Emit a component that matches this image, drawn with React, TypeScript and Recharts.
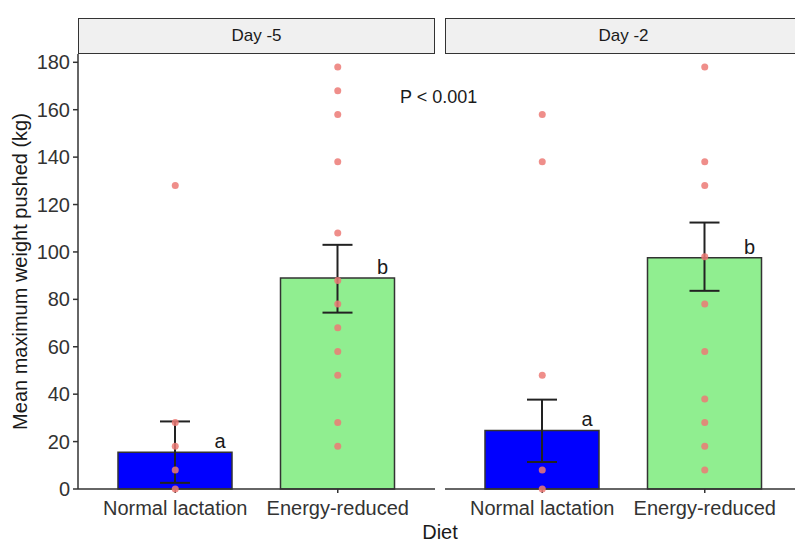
import React from "react";
import {
  ComposedChart,
  Bar,
  Cell,
  ErrorBar,
  Scatter,
  XAxis,
  YAxis,
  Label,
  LabelList,
} from "recharts";

const diets = ["Normal lactation", "Energy-reduced"];
const letters = ["a", "b"];
const yTicks = [0, 20, 40, 60, 80, 100, 120, 140, 160, 180];

// Day -5
const day5Means = [15.5, 89];
const day5Lower = [2.6, 74.4];
const day5Upper = [28.5, 103];
const day5Normal = [128, 28, 18, 8, 0];
const day5Reduced = [178, 168, 158, 138, 108, 88, 78, 68, 58, 48, 28, 18];

// Day -2
const day2Means = [24.7, 97.5];
const day2Lower = [11.4, 83.6];
const day2Upper = [37.7, 112.4];
const day2Normal = [158, 138, 48, 8, 0];
const day2Reduced = [178, 138, 128, 98, 78, 58, 38, 28, 18, 8];

const axisColor = "#333333";
const textColor = "#1a1a1a";
const font = "'Liberation Sans', Arial, sans-serif";

function buildBars(means: number[], lower: number[], upper: number[]) {
  return diets.map((diet, i) => ({
    diet,
    mean: means[i],
    err: [means[i] - lower[i], upper[i] - means[i]],
    letter: letters[i],
  }));
}

function buildPoints(normal: number[], reduced: number[]) {
  return [
    ...normal.map((v) => ({ diet: diets[0], value: v })),
    ...reduced.map((v) => ({ diet: diets[1], value: v })),
  ];
}

const renderLetter = (props: any) => {
  const { x, y, width, value } = props;
  return (
    <text
      x={Number(x) + Number(width) / 2 + 45}
      y={Number(y) - 4}
      fontSize={20}
      fill={textColor}
      textAnchor="middle"
      fontFamily={font}
    >
      {value}
    </text>
  );
};

const renderPoint = (props: any) => (
  <circle cx={props.cx} cy={props.cy} r={3.5} fill="#EC7A76" fillOpacity={0.85} />
);

function Panel({
  means,
  lower,
  upper,
  normal,
  reduced,
  showY,
  width,
}: {
  means: number[];
  lower: number[];
  upper: number[];
  normal: number[];
  reduced: number[];
  showY: boolean;
  width: number;
}) {
  const bars = buildBars(means, lower, upper);
  const points = buildPoints(normal, reduced);
  return (
    <ComposedChart
      width={width}
      height={543}
      data={bars}
      margin={{ top: 54, right: 0, bottom: 0, left: 0 }}
    >
      <XAxis
        dataKey="diet"
        type="category"
        allowDuplicatedCategory={false}
        padding={{ left: 16, right: 16 }}
        height={54}
        tickSize={4}
        tickMargin={8}
        axisLine={{ stroke: axisColor, strokeWidth: 1.5 }}
        tickLine={{ stroke: axisColor, strokeWidth: 1.5 }}
        tick={{ fontSize: 20, fill: "#333333", fontFamily: font }}
        interval={0}
      />
      <YAxis
        type="number"
        domain={[0, 183.5]}
        ticks={yTicks}
        hide={!showY}
        width={showY ? 78 : 0}
        tickSize={5}
        tickMargin={3}
        axisLine={{ stroke: axisColor, strokeWidth: 1.5 }}
        tickLine={{ stroke: axisColor, strokeWidth: 1.5 }}
        tick={{ fontSize: 20, fill: "#333333", fontFamily: font }}
      >
        {showY && (
          <Label
            value="Mean maximum weight pushed (kg)"
            angle={-90}
            position="insideLeft"
            offset={20}
            style={{ textAnchor: "middle", fontSize: 20, fill: textColor, fontFamily: font }}
          />
        )}
      </YAxis>
      <Bar
        dataKey="mean"
        barSize={114}
        stroke={axisColor}
        strokeWidth={1.5}
        isAnimationActive={false}
      >
        {bars.map((b, i) => (
          <Cell key={b.diet} fill={i === 0 ? "#0000FF" : "#90EE90"} />
        ))}
        <ErrorBar dataKey="err" width={15} stroke="#222222" strokeWidth={2} direction="y" />
        <LabelList dataKey="letter" content={renderLetter} />
      </Bar>
      <Scatter
        data={points}
        dataKey="value"
        shape={renderPoint}
        isAnimationActive={false}
      />
    </ComposedChart>
  );
}

const stripStyle: React.CSSProperties = {
  position: "absolute",
  top: 18,
  height: 36,
  width: 357,
  boxSizing: "border-box",
  border: "1.5px solid #333333",
  background: "#f0f0f0",
  display: "flex",
  alignItems: "center",
  justifyContent: "center",
  fontSize: 17,
  color: textColor,
  fontFamily: font,
};

export default function App() {
  return (
    <div
      style={{
        position: "absolute",
        left: 0,
        top: 0,
        width: 795,
        height: 543,
        overflow: "hidden",
        background: "#ffffff",
        fontFamily: font,
      }}
    >
      <div style={{ position: "absolute", left: 0, top: 0 }}>
        <Panel
          means={day5Means}
          lower={day5Lower}
          upper={day5Upper}
          normal={day5Normal}
          reduced={day5Reduced}
          showY={true}
          width={435}
        />
      </div>
      <div style={{ position: "absolute", left: 445, top: 0 }}>
        <Panel
          means={day2Means}
          lower={day2Lower}
          upper={day2Upper}
          normal={day2Normal}
          reduced={day2Reduced}
          showY={false}
          width={357}
        />
      </div>
      <div style={{ ...stripStyle, left: 78 }}>Day -5</div>
      <div style={{ ...stripStyle, left: 445 }}>Day -2</div>
      <div
        style={{
          position: "absolute",
          left: 400,
          top: 87,
          fontSize: 18,
          color: textColor,
          whiteSpace: "nowrap",
        }}
      >
        P &lt; 0.001
      </div>
      <div
        style={{
          position: "absolute",
          left: 0,
          width: 880,
          top: 522,
          height: 20,
          lineHeight: "20px",
          textAlign: "center",
          fontSize: 20,
          color: textColor,
        }}
      >
        Diet
      </div>
    </div>
  );
}
